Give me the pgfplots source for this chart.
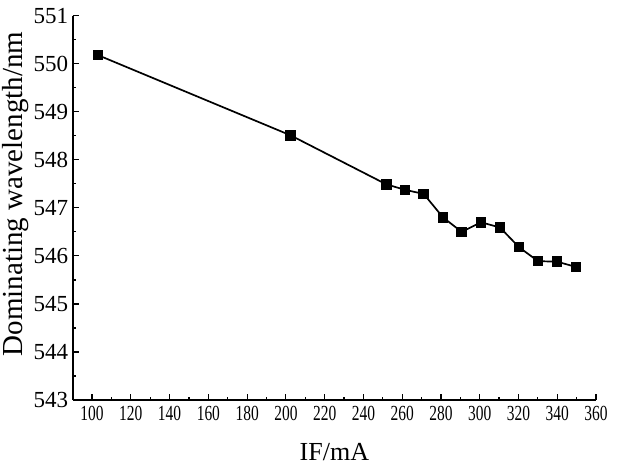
\documentclass[border=0pt]{standalone}
\usepackage{fontspec}
\setmainfont{Liberation Serif}
\newfontfamily\condserif[FakeStretch=0.72]{Liberation Serif}
\usepackage{pgfplots}
\pgfplotsset{compat=1.18}
\begin{document}
\begin{tikzpicture}
\begin{axis}[
  at={(0,0)}, anchor=south west,
  scale only axis,
  width=523.3pt, height=384.3pt,
  xmin=90, xmax=360,
  ymin=543, ymax=551,
  axis lines=left,
  axis line style={-, line width=1.6pt},
  xtick={100,120,...,360},
  ytick={543,544,...,551},
  minor x tick num=1,
  minor y tick num=1,
  tick align=inside,
  major tick length=6pt,
  minor tick length=3.5pt,
  tick style={line width=1.2pt, black},
  /pgf/number format/assume math mode=true,
  /pgf/number format/1000 sep={},
  xticklabel style={font=\condserif\fontsize{21.5}{23}\selectfont, yshift=-3pt},
  yticklabel style={font=\fontsize{23}{25}\selectfont, xshift=-1pt},
  xlabel={IF/mA},
  ylabel={Dominating wavelength/nm},
  xlabel style={font=\fontsize{26}{28}\selectfont, at={(axis description cs:0.5,0)}, anchor=center, yshift=-52pt},
  ylabel style={font=\fontsize{29}{31}\selectfont, at={(axis description cs:-0.1083,0.536)}, anchor=center},
  clip=false,
]
\addplot[black, line width=1.7pt, mark=square*, mark size=4.4pt, mark options={solid}] coordinates {
(103,550.18)
(202.4,548.51)
(251.8,547.49)
(261.5,547.375)
(271.1,547.29)
(281.1,546.80)
(290.7,546.50)
(300.7,546.70)
(310.5,546.59)
(320.3,546.18)
(330.1,545.89)
(339.9,545.88)
(349.7,545.77)
};
\end{axis}
\pgfresetboundingbox
\path[use as bounding box] (-72.7pt,-69pt) rectangle (547.3pt,400pt);
\end{tikzpicture}
\end{document}
